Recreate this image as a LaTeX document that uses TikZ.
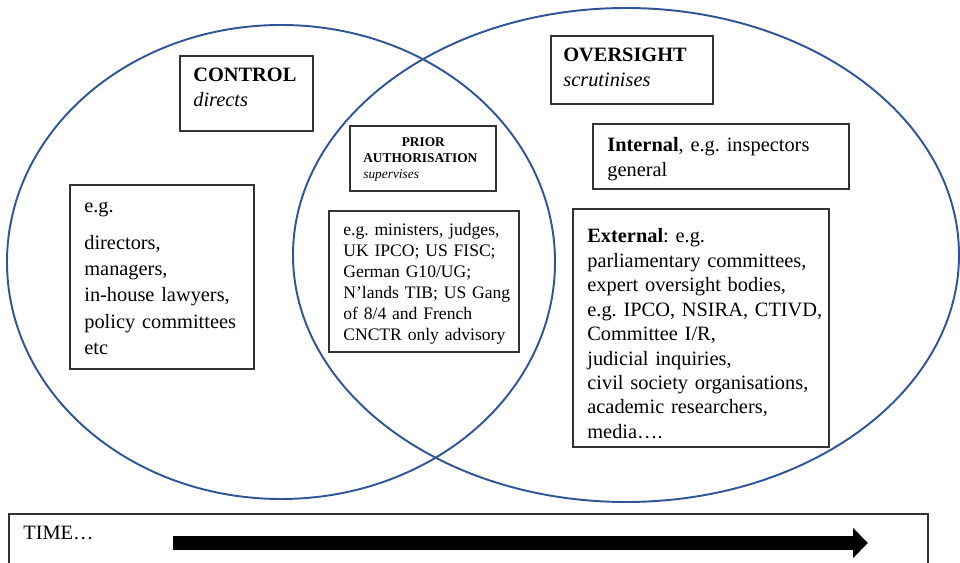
\documentclass[tikz,border=0pt]{standalone}
\usepackage{fontspec}
\setmainfont{Liberation Serif}
\usepackage{tikz}
\usetikzlibrary{arrows.meta,fit}
\frenchspacing

\definecolor{vennblue}{RGB}{47,85,151}

\begin{document}
\begin{tikzpicture}
	[x=0.02cm,y=-0.02cm,
	venn/.style={draw=vennblue,line width=1.1pt},
	box/.style={draw=black!80,line width=0.6pt,inner sep=0pt},
	txt/.style={inner sep=0pt,anchor=base west,align=left},
	font=\fontsize{11.6}{14.2}\selectfont]
	\useasboundingbox (0,0) rectangle (960,563);
	%CIRCLES
	\draw[venn] (281,262) ellipse [x radius=274, y radius=237];
	\draw[venn] (626,255) ellipse [x radius=333, y radius=247];
	%CONTROL
	\node[box,fit={(180,56) (313,131)}] (ctrlbox) {};
	\node[txt,text width=2.4cm] (ctrl) at (193,82) {\textbf{CONTROL}\\\textit{directs}};
	\node[box,fit={(70,185) (254,369)}] (ctrlex) {};
	\node[txt,text width=3.4cm,font=\fontsize{11.6}{15}\selectfont] (ctrlextxt) at (84,213)
	{e.g.\\[5.5pt]directors,\\managers,\\in-house lawyers,\\policy committees\\etc};
	%PRIOR AUTHORISATION
	\node[box,fit={(350,126) (496,191)}] (priorbox) {};
	\node[txt,text width=2.4cm,font=\fontsize{7.6}{9.1}\selectfont] (prior) at (363,147)
	{\hfill\textbf{PRIOR}\hfill\null\\\textbf{AUTHORISATION}\\\textit{supervises}};
	\node[box,fit={(329,211) (519,352)}] (priorex) {};
	\node[txt,text width=3.6cm,font=\fontsize{10}{11.95}\selectfont] (priorextxt) at (343,236)
	{e.g. ministers, judges,\\UK IPCO; US FISC;\\German G10/UG;\\N’lands TIB; US Gang\\of 8/4 and French\\CNCTR only advisory};
	%OVERSIGHT
	\node[box,fit={(551,36) (713,104)}] (overbox) {};
	\node[txt,text width=2.9cm] (over) at (563,62) {\textbf{OVERSIGHT}\\\textit{scrutinises}};
	\node[box,fit={(593,124) (849,189)}] (intbox) {};
	\node[txt,text width=4.8cm] (int) at (607,152) {\textbf{Internal}, e.g. inspectors\\general};
	\node[box,fit={(573,209) (829,447)}] (extbox) {};
	\node[txt,text width=4.8cm,font=\fontsize{11.6}{13.9}\selectfont] (ext) at (587,243)
	{\textbf{External}: e.g.\\parliamentary committees,\\expert oversight bodies,\\e.g. IPCO, NSIRA, CTIVD,\\Committee I/R,\\judicial inquiries,\\civil society organisations,\\academic researchers,\\media….};
	%TIME
	\node[box,fit={(9,514) (928,575)}] (timebox) {};
	\node[txt,text width=2cm] (time) at (23,540) {TIME…};
	\coordinate (tstart) at (173,543);
	\coordinate (tend) at (868,543);
	\draw[line width=7.4pt,-{Triangle[length=8.5pt,width=16.5pt]}] (tstart) -- (tend);
\end{tikzpicture}
\end{document}
